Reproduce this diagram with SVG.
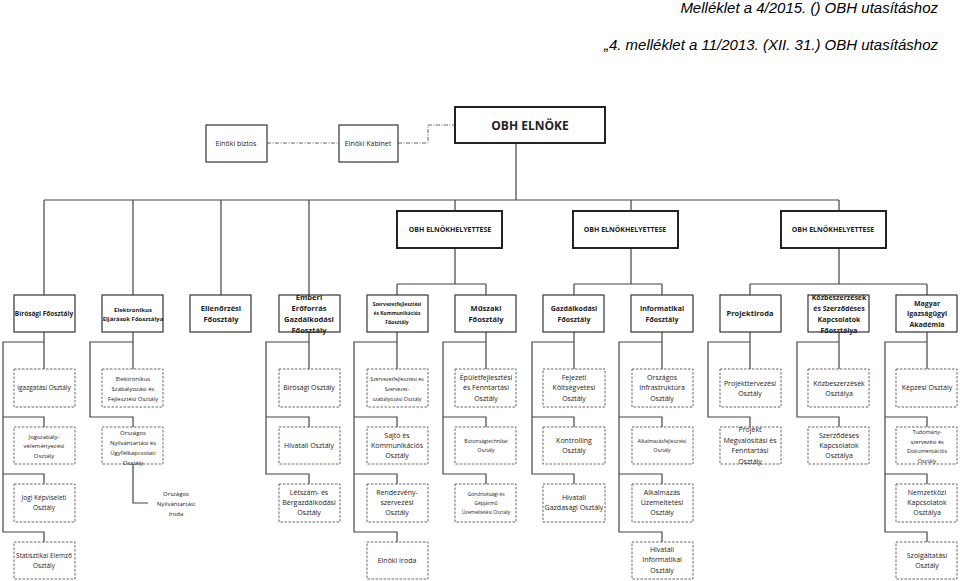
<svg xmlns="http://www.w3.org/2000/svg" width="960" height="581" viewBox="0 0 960 581">
<style>
text{font-family:"Open Sans","Liberation Sans",sans-serif;fill:#222;text-anchor:middle}
.t{font-family:"Liberation Sans",sans-serif;font-style:italic;font-size:15px;text-anchor:end;fill:#000}
.m rect{fill:#fff;stroke:#333;stroke-width:1.2}
.b rect{fill:#fff;stroke:#222;stroke-width:2}
.s rect{fill:#fff;stroke:#555;stroke-width:0.9;stroke-dasharray:2.5,1.5}
.bo{font-weight:bold}
.c{fill:none;stroke:#444;stroke-width:1.2}
.d{fill:none;stroke:#666;stroke-width:1;stroke-dasharray:4,1.5,1,1.5}
</style>
<text class="t" x="938" y="13">Melléklet a 4/2015. () OBH utasításhoz</text>
<text class="t" x="938" y="50">„4. melléklet a 11/2013. (XII. 31.) OBH utasításhoz</text>
<g id="connectors">
<path class="d" d="M267 143H339M398 143H428V125H455"/>
<path class="c" d="M516 143V200M44 200H839M44 200V295M133 200V295M221 200V295M309 200V295M455 200V211M631 200V211M839 200V211"/>
<path class="c" d="M455 248V284M397 284H486M397 284V295M486 284V295M631 248V284M574 284H662M574 284V295M662 284V295M839 248V284M750 284H927M750 284V295M927 284V295"/>
<path class="c" d="M44 332V369M44 342H3V532H44V542M3 417H44V427M3 474H44V484"/>
<path class="c" d="M133 332V369M133 342H90V417H133V427M133 464V503H148"/>
<path class="c" d="M309 332V369M309 342H266V474H309V484M266 417H309V427"/>
<path class="c" d="M397 332V369M397 342H354V532H397V542M354 417H397V427M354 474H397V484"/>
<path class="c" d="M486 332V369M486 342H443V474H486V484M443 417H486V427"/>
<path class="c" d="M574 332V369M574 342H532V474H574V484M532 417H574V427"/>
<path class="c" d="M662 332V369M662 342H619V532H662V542M619 417H662V427M619 474H662V484"/>
<path class="c" d="M750 332V369M750 342H708V417H750V427"/>
<path class="c" d="M839 332V369M839 342H797V417H839V427"/>
<path class="c" d="M927 332V369M927 342H885V532H927V542M885 417H927V427M885 474H927V484"/>
</g>
<g id="elnok" class="b"><rect x="455" y="107" width="150" height="36"/><text class="bo" x="530" y="130" font-size="12">OBH ELNÖKE</text></g>
<g id="biztos" class="m"><rect x="206" y="125" width="61" height="37"/><text x="236" y="146" font-size="7">Elnöki biztos</text></g>
<g id="kabinet" class="m"><rect x="339" y="125" width="59" height="37"/><text x="368" y="146" font-size="7">Elnöki Kabinet</text></g>
<g id="h1" class="b"><rect x="397" y="211" width="105" height="37"/><text class="bo" x="450" y="232" font-size="7">OBH ELNÖKHELYETTESE</text></g>
<g id="h2" class="b"><rect x="573" y="211" width="105" height="37"/><text class="bo" x="625" y="232" font-size="7">OBH ELNÖKHELYETTESE</text></g>
<g id="h3" class="b"><rect x="781" y="211" width="105" height="37"/><text class="bo" x="833" y="232" font-size="7">OBH ELNÖKHELYETTESE</text></g>
<g id="f0" class="m"><rect x="14" y="295" width="61" height="37"/><text class="bo" x="44" y="316" font-size="6.5">Bírósági Főosztály</text></g>
<g id="f1" class="m"><rect x="102" y="295" width="61" height="37"/><text class="bo" font-size="6" x="133" y="312">Elektronikus</text><text class="bo" font-size="6" x="133" y="321">Eljárások Főosztálya</text></g>
<g id="f2" class="m"><rect x="190" y="295" width="61" height="37"/><text class="bo" font-size="7.5" x="221" y="311">Ellenőrzési</text><text class="bo" font-size="7.5" x="221" y="322">Főosztály</text></g>
<g id="f3" class="m"><rect x="279" y="295" width="61" height="37"/><text class="bo" font-size="7.5" x="309" y="300">Emberi</text><text class="bo" font-size="7.5" x="309" y="311">Erőforrás</text><text class="bo" font-size="7.5" x="309" y="322">Gazdálkodási</text><text class="bo" font-size="7.5" x="309" y="333">Főosztály</text></g>
<g id="f4" class="m"><rect x="367" y="295" width="61" height="37"/><text class="bo" font-size="5" x="397" y="306">Szervezetfejlesztési</text><text class="bo" font-size="5" x="397" y="315">és Kommunikációs</text><text class="bo" font-size="5" x="397" y="324">Főosztály</text></g>
<g id="f5" class="m"><rect x="455" y="295" width="61" height="37"/><text class="bo" font-size="7.5" x="486" y="311">Műszaki</text><text class="bo" font-size="7.5" x="486" y="322">Főosztály</text></g>
<g id="f6" class="m"><rect x="543" y="295" width="61" height="37"/><text class="bo" font-size="7" x="574" y="311">Gazdálkodási</text><text class="bo" font-size="7" x="574" y="322">Főosztály</text></g>
<g id="f7" class="m"><rect x="631" y="295" width="62" height="37"/><text class="bo" font-size="7" x="662" y="311">Informatikai</text><text class="bo" font-size="7" x="662" y="322">Főosztály</text></g>
<g id="f8" class="m"><rect x="720" y="295" width="61" height="37"/><text class="bo" font-size="7.5" x="750" y="316">Projektiroda</text></g>
<g id="f9" class="m"><rect x="808" y="295" width="61" height="37"/><text class="bo" font-size="7" x="839" y="300">Közbeszerzések</text><text class="bo" font-size="7" x="839" y="311">és Szerződéses</text><text class="bo" font-size="7" x="839" y="322">Kapcsolatok</text><text class="bo" font-size="7" x="839" y="333">Főosztálya</text></g>
<g id="f10" class="m"><rect x="896" y="295" width="61" height="37"/><text class="bo" font-size="7" x="927" y="306">Magyar</text><text class="bo" font-size="7" x="927" y="316">Igazságügyi</text><text class="bo" font-size="7" x="927" y="327">Akadémia</text></g>

<g id="s0a" class="s"><rect x="14" y="369" width="61" height="38"/><text font-size="6.5" x="44" y="390">Igazgatási Osztály</text></g>
<g id="s0b" class="s"><rect x="14" y="427" width="61" height="37"/><text font-size="6" x="44" y="439">Jogszabály-</text><text font-size="6" x="44" y="448">véleményezési</text><text font-size="6" x="44" y="458">Osztály</text></g>
<g id="s0c" class="s"><rect x="14" y="484" width="61" height="38"/><text font-size="6.5" x="44" y="500">Jogi Képviseleti</text><text font-size="6.5" x="44" y="510">Osztály</text></g>
<g id="s0d" class="s"><rect x="14" y="542" width="61" height="37"/><text font-size="6.5" x="44" y="558">Statisztikai Elemző</text><text font-size="6.5" x="44" y="568">Osztály</text></g>

<g id="s1a" class="s"><rect x="102" y="369" width="61" height="38"/><text font-size="6" x="133" y="381">Elektronikus</text><text font-size="6" x="133" y="391">Szabályozási és</text><text font-size="6" x="133" y="401">Fejlesztési Osztály</text></g>
<g id="s1b" class="s"><rect x="102" y="427" width="61" height="37"/><text font-size="6" x="133" y="435">Országos</text><text font-size="6" x="133" y="445">Nyilvántartási és</text><text font-size="6" x="133" y="455">Ügyfélkapcsolati</text><text font-size="6" x="133" y="465">Osztály</text></g>
<g id="s1c"><text font-size="6" x="176" y="496">Országos</text><text font-size="6" x="176" y="506">Nyilvántartási</text><text font-size="6" x="176" y="516">Iroda</text></g>

<g id="s3a" class="s"><rect x="279" y="369" width="61" height="38"/><text font-size="7" x="309" y="390">Bírósági Osztály</text></g>
<g id="s3b" class="s"><rect x="279" y="427" width="61" height="37"/><text font-size="7" x="309" y="448">Hivatali Osztály</text></g>
<g id="s3c" class="s"><rect x="279" y="484" width="61" height="38"/><text font-size="7" x="309" y="495">Létszám- és</text><text font-size="7" x="309" y="505">Bérgazdálkodási</text><text font-size="7" x="309" y="515">Osztály</text></g>

<g id="s4a" class="s"><rect x="367" y="369" width="61" height="38"/><text font-size="5.2" x="397" y="381">Szervezetfejlesztési és</text><text font-size="5.2" x="397" y="391">Szervezet-</text><text font-size="5.2" x="397" y="401">szabályozási Osztály</text></g>
<g id="s4b" class="s"><rect x="367" y="427" width="61" height="37"/><text font-size="7" x="397" y="438">Sajtó és</text><text font-size="7" x="397" y="448">Kommunikációs</text><text font-size="7" x="397" y="458">Osztály</text></g>
<g id="s4c" class="s"><rect x="367" y="484" width="61" height="38"/><text font-size="7" x="397" y="495">Rendezvény-</text><text font-size="7" x="397" y="505">szervezési</text><text font-size="7" x="397" y="515">Osztály</text></g>
<g id="s4d" class="s"><rect x="367" y="542" width="61" height="37"/><text font-size="7" x="397" y="563">Elnöki Iroda</text></g>

<g id="s5a" class="s"><rect x="455" y="369" width="61" height="38"/><text font-size="7" x="486" y="380">Épületfejlesztési</text><text font-size="7" x="486" y="390">és Fenntartási</text><text font-size="7" x="486" y="401">Osztály</text></g>
<g id="s5b" class="s"><rect x="455" y="427" width="61" height="37"/><text font-size="5" x="486" y="443">Biztonságtechnikai</text><text font-size="5" x="486" y="452">Osztály</text></g>
<g id="s5c" class="s"><rect x="455" y="484" width="61" height="38"/><text font-size="5" x="486" y="496">Gondnoksági és</text><text font-size="5" x="486" y="505">Gépjármű</text><text font-size="5" x="486" y="514">Üzemeltetési Osztály</text></g>

<g id="s6a" class="s"><rect x="543" y="369" width="62" height="38"/><text font-size="7" x="574" y="380">Fejezeti</text><text font-size="7" x="574" y="390">Költségvetési</text><text font-size="7" x="574" y="401">Osztály</text></g>
<g id="s6b" class="s"><rect x="543" y="427" width="62" height="37"/><text font-size="7" x="574" y="443">Kontrolling</text><text font-size="7" x="574" y="453">Osztály</text></g>
<g id="s6c" class="s"><rect x="543" y="484" width="62" height="38"/><text font-size="7" x="574" y="500">Hivatali</text><text font-size="7" x="574" y="510">Gazdasági Osztály</text></g>

<g id="s7a" class="s"><rect x="632" y="369" width="61" height="38"/><text font-size="7" x="662" y="380">Országos</text><text font-size="7" x="662" y="390">Infrastruktúra</text><text font-size="7" x="662" y="401">Osztály</text></g>
<g id="s7b" class="s"><rect x="632" y="427" width="61" height="37"/><text font-size="5" x="662" y="443">Alkalmazásfejlesztési</text><text font-size="5" x="662" y="452">Osztály</text></g>
<g id="s7c" class="s"><rect x="632" y="484" width="61" height="38"/><text font-size="7" x="662" y="495">Alkalmazás</text><text font-size="7" x="662" y="505">Üzemeltetési</text><text font-size="7" x="662" y="515">Osztály</text></g>
<g id="s7d" class="s"><rect x="632" y="542" width="61" height="37"/><text font-size="7" x="662" y="552">Hivatali</text><text font-size="7" x="662" y="562">Informatikai</text><text font-size="7" x="662" y="573">Osztály</text></g>

<g id="s8a" class="s"><rect x="720" y="369" width="61" height="38"/><text font-size="7" x="750" y="386">Projekttervezési</text><text font-size="7" x="750" y="396">Osztály</text></g>
<g id="s8b" class="s"><rect x="720" y="427" width="61" height="37"/><text font-size="7" x="750" y="432">Projekt</text><text font-size="7" x="750" y="443">Megvalósítási és</text><text font-size="7" x="750" y="453">Fenntartási</text><text font-size="7" x="750" y="464">Osztály</text></g>

<g id="s9a" class="s"><rect x="808" y="369" width="61" height="38"/><text font-size="7" x="839" y="386">Közbeszerzések</text><text font-size="7" x="839" y="396">Osztálya</text></g>
<g id="s9b" class="s"><rect x="808" y="427" width="61" height="37"/><text font-size="7" x="839" y="438">Szerződéses</text><text font-size="7" x="839" y="448">Kapcsolatok</text><text font-size="7" x="839" y="458">Osztálya</text></g>

<g id="s10a" class="s"><rect x="896" y="369" width="61" height="38"/><text font-size="7" x="927" y="390">Képzési Osztály</text></g>
<g id="s10b" class="s"><rect x="896" y="427" width="61" height="37"/><text font-size="5.5" x="927" y="434">Tudomány-</text><text font-size="5.5" x="927" y="444">szervezési és</text><text font-size="5.5" x="927" y="453">Dokumentációs</text><text font-size="5.5" x="927" y="463">Osztály</text></g>
<g id="s10c" class="s"><rect x="896" y="484" width="61" height="38"/><text font-size="7" x="927" y="495">Nemzetközi</text><text font-size="7" x="927" y="505">Kapcsolatok</text><text font-size="7" x="927" y="515">Osztálya</text></g>
<g id="s10d" class="s"><rect x="896" y="542" width="61" height="37"/><text font-size="7" x="927" y="558">Szolgáltatási</text><text font-size="7" x="927" y="568">Osztály</text></g>
</svg>
